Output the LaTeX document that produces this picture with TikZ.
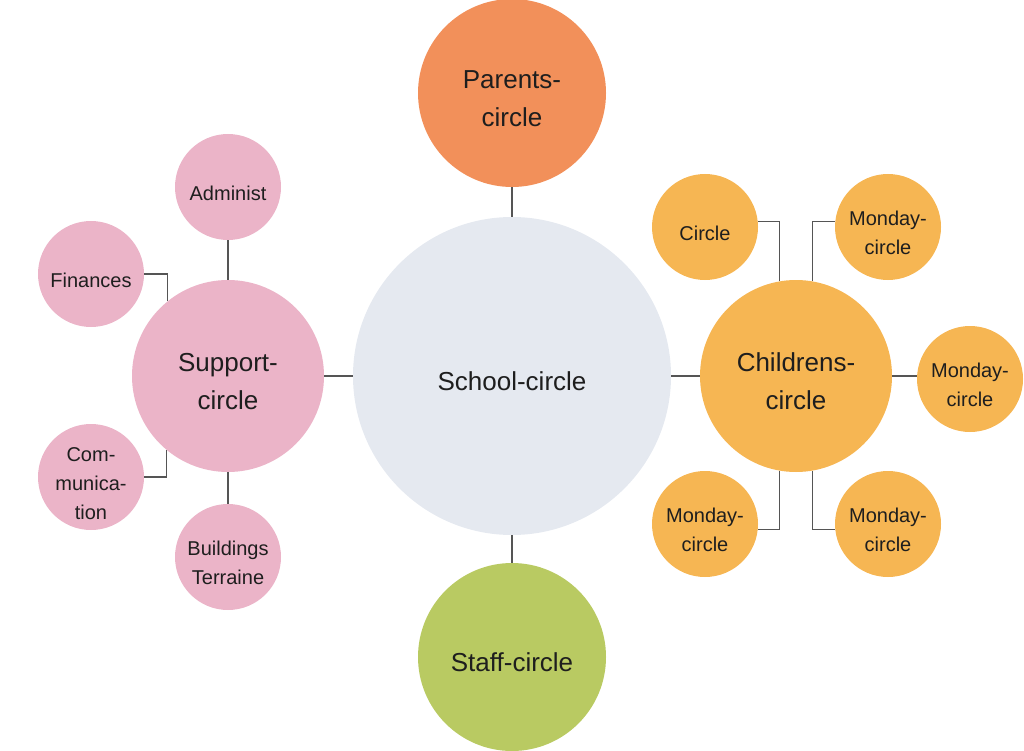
\documentclass[tikz,border=0pt]{standalone}
\usepackage{fontspec}
\setmainfont{Liberation Sans}
\definecolor{pinkc}{HTML}{EBB4C8}
\definecolor{orangec}{HTML}{F2905A}
\definecolor{yellowc}{HTML}{F6B653}
\definecolor{greenc}{HTML}{B9CA62}
\definecolor{greyc}{HTML}{E5E9F0}
\definecolor{linec}{HTML}{555555}
\definecolor{textc}{HTML}{1E1E1E}
\newcommand\bst{\rule{0pt}{29pt}}
\newcommand\sst{\rule{0pt}{27pt}}
\begin{document}
\begin{tikzpicture}[x=1pt,y=-1pt,
  bub/.style={circle,inner sep=-6pt,align=center,text=textc},
  bigfont/.style={font=\fontsize{26}{38}\selectfont},
  big/.style={bub,minimum size=192pt,bigfont},
  small/.style={bub,minimum size=106pt,font=\fontsize{20}{29}\selectfont},
  conn/.style={draw=linec,line width=1.3pt}]
\useasboundingbox (0,0) rectangle (1024,751);
% central
\node[bub,fill=greyc,minimum size=318pt,bigfont] (school) at (512,376) {\bst School-circle};
\node[big,fill=orangec,minimum size=188pt] (parents) at (512,93) {\bst Parents-\\circle};
\node[big,fill=greenc,minimum size=188pt] (staff) at (512,657) {\bst Staff-circle};
% support
\node[big,fill=pinkc] (sup) at (228,376) {\bst Support-\\circle};
\node[small,fill=pinkc] (adm) at (228,187) {\sst Administ};
\node[small,fill=pinkc] (fin) at (91,274) {\sst Finances};
\node[small,fill=pinkc] (com) at (91,477) {\sst Com-\\munica-\\tion};
\node[small,fill=pinkc] (bld) at (228,557) {\sst Buildings\\Terraine};
% childrens
\node[big,fill=yellowc] (ch) at (796,376) {\bst Childrens-\\circle};
\node[small,fill=yellowc] (c1) at (705,227) {\sst Circle};
\node[small,fill=yellowc] (m1) at (888,227) {\sst Monday-\\circle};
\node[small,fill=yellowc] (m2) at (970,379) {\sst Monday-\\circle};
\node[small,fill=yellowc] (m3) at (705,524) {\sst Monday-\\circle};
\node[small,fill=yellowc] (m4) at (888,524) {\sst Monday-\\circle};
% connectors
\draw[conn] (parents.south) -- (school.north);
\draw[conn] (staff.north) -- (school.south);
\draw[conn] (sup.east) -- (school.west);
\draw[conn] (school.east) -- (ch.west);
\draw[conn] (adm.south) -- (sup.north);
\draw[conn] (bld.north) -- (sup.south);
\draw[conn] (fin.east) -| (sup.129.5);
\draw[conn] (com.east) -| (sup.230.5);
\draw[conn] (c1.6) -| (ch.100);
\draw[conn] (m1.174) -| (ch.80);
\draw[conn] (ch.east) -- (ch.east -| m2.west);
\draw[conn] (m3.354) -| (ch.260);
\draw[conn] (m4.186) -| (ch.280);
\end{tikzpicture}
\end{document}
